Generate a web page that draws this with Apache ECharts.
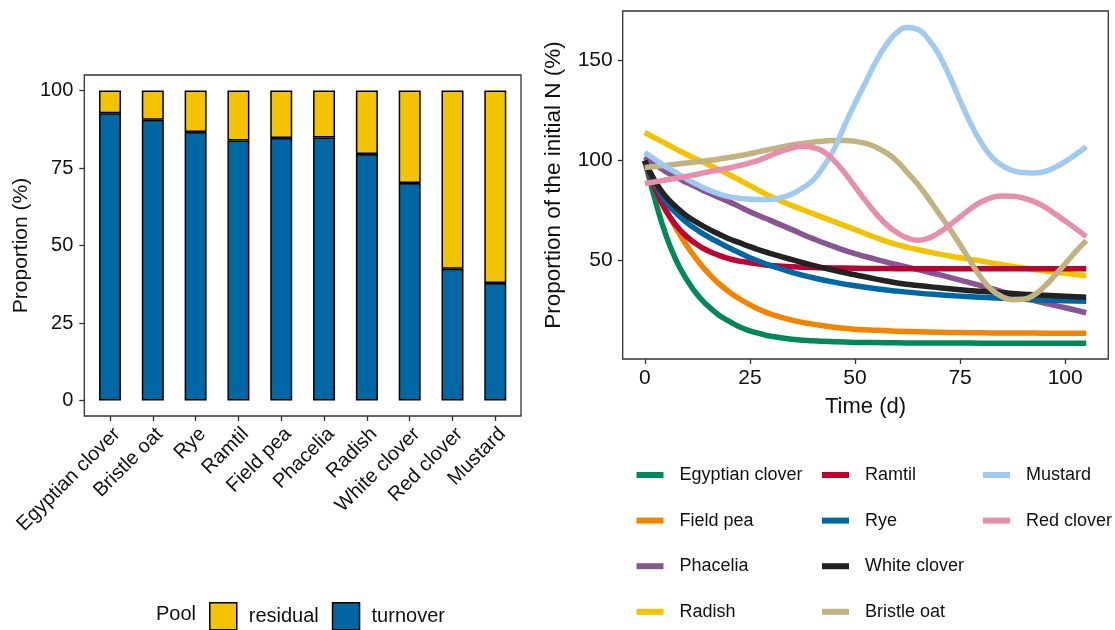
<!DOCTYPE html>
<html>
<head>
<meta charset="utf-8">
<script src="https://cdn.jsdelivr.net/npm/echarts@6/dist/echarts.min.js"></script>
<style>
  html, body { margin: 0; padding: 0; background: #ffffff; }
  #chart { width: 1115px; height: 630px; }
</style>
</head>
<body>
<div id="chart"></div>
<script>
// ---- Left panel: N pools per cover crop (%) ----
const crops = ['Egyptian clover', 'Bristle oat', 'Rye', 'Ramtil', 'Field pea',
               'Phacelia', 'Radish', 'White clover', 'Red clover', 'Mustard'];
const turnover = [92.7, 90.6, 86.6, 83.9, 84.7, 84.8, 79.5, 70.2, 42.5, 37.9];
const residual = [7.3, 9.4, 13.4, 16.1, 15.3, 15.2, 20.5, 29.8, 57.5, 62.1];
const proportionTicks = [0, 25, 50, 75, 100];

// ---- Right panel: remaining N over time (% of initial) ----
// monotone decays: sampled densely during the fast early drop
const decayDays = [0, 2.5, 5, 7.5, 10, 12.5, 15, 17.5, 20, 22.5, 25, 27.5, 30,
                   35, 40, 45, 50, 55, 60, 65, 70, 75, 80, 85, 90, 95, 100, 105];
const egyptianClover = [100, 80, 63, 50, 40.5, 33, 27.5, 23, 19.8, 17, 15, 13.5, 12.3,
                        10.8, 10, 9.5, 9.2, 9.1, 9, 8.9, 8.9, 8.9, 8.8, 8.8, 8.8, 8.8, 8.8, 8.8];
const fieldPea = [100, 87, 76, 66, 57.5, 50.3, 44, 38.8, 34.5, 31, 28, 25.4, 23.3,
                  20.3, 18.3, 16.8, 15.8, 15.2, 14.8, 14.5, 14.3, 14.1, 14, 13.9, 13.9, 13.8, 13.8, 13.8];
const phacelia = [102, 98, 94.5, 91.6, 89, 86.5, 84, 81.7, 79.5, 77, 74.5, 72.2, 70,
                  65.5, 61, 57, 53.5, 50.7, 48, 45.5, 43, 40.3, 37.5, 34.5, 31.5, 28.8, 26.5, 24];
const radish = [114, 111.2, 108.5, 105.7, 103, 100.5, 98, 95.5, 93, 90.3, 87.5, 84.7, 82,
                77.5, 73.5, 69.5, 65.5, 61.5, 58, 55.5, 53.3, 51.5, 49.8, 48, 46.3, 45, 43.7, 42.5];
const ramtil = [100, 86, 75, 67.5, 62, 58, 55, 52.8, 51, 49.8, 49, 48.2, 47.6,
                47, 46.6, 46.4, 46.2, 46.1, 46, 46, 46, 46, 46, 46, 46, 46, 46, 46];
const rye = [100, 88.5, 79.5, 73.8, 69, 65.3, 62, 59.2, 56.5, 54, 51.5, 49.4, 47.5,
             44.2, 41.5, 39.3, 37.5, 36, 34.8, 33.8, 33, 32.3, 31.7, 31.2, 30.7, 30.3, 30, 29.8];
const whiteClover = [100, 89.5, 82, 76.8, 72.3, 69, 66, 63.4, 61, 59, 57, 55.2, 53.5,
                     50.5, 47.7, 45.2, 43, 40.8, 38.9, 37.6, 36.5, 35.5, 34.7, 34, 33.3, 32.7, 32.2, 31.8];

// non-monotone curves: sampled every 2.5 days
const waveDays = [0, 2.5, 5, 7.5, 10, 12.5, 15, 17.5, 20, 22.5, 25, 27.5, 30, 32.5, 35, 37.5,
                  40, 42.5, 45, 47.5, 50, 52.5, 55, 57.5, 60, 62.5, 65, 67.5, 70, 72.5, 75, 77.5,
                  80, 82.5, 85, 87.5, 90, 92.5, 95, 97.5, 100, 102.5, 105];
const bristleOat = [96.5, 97, 97.6, 98.2, 98.8, 99.4, 100, 100.7, 101.5, 102.4, 103.4, 104.6, 105.7, 106.8, 107.8, 108.6,
                    109.2, 109.7, 110, 110, 109.6, 108.6, 106.7, 103.8, 99.7, 94, 88, 81, 73.5, 66, 58, 49.5,
                    41.5, 35.5, 32, 30.5, 30.7, 32.8, 37, 42.5, 48.5, 54.5, 60];
const mustard = [104, 100.5, 97, 94, 90.8, 88, 85.5, 83.5, 82, 81.2, 80.7, 80.5, 80.6, 81.5, 83.3, 86.3,
                 90.2, 97, 105.5, 117.5, 128.5, 139, 149.5, 158, 164, 166.5, 165.5, 160.5, 152.8, 142, 130, 118.5,
                 109, 101.8, 97.5, 95, 94, 93.8, 94.5, 96.5, 99.5, 103, 107];
const redClover = [88.5, 89.4, 90.3, 91.2, 92.2, 93.2, 94.3, 95.3, 96.3, 97.5, 98.9, 100.5, 102.6, 104.7, 106.3, 107.2,
                   106.5, 104.5, 100, 94, 87, 80, 73.5, 68, 64, 61.3, 60.2, 61.3, 64, 67.8, 71.8, 76,
                   79.3, 81.5, 82.3, 82.2, 81.3, 79.6, 77, 73.5, 69.8, 66, 62];

const timeTicks = [0, 25, 50, 75, 100];
const nTicks = [50, 100, 150];

const FONT = "'Liberation Sans', Arial, Helvetica, sans-serif";
const TXT = '#111111';

const lineSeriesDefs = [
  { name: 'Egyptian clover', days: decayDays, values: egyptianClover, color: '#008856' },
  { name: 'Field pea',       days: decayDays, values: fieldPea,       color: '#f38400' },
  { name: 'Phacelia',        days: decayDays, values: phacelia,       color: '#875692' },
  { name: 'Radish',          days: decayDays, values: radish,         color: '#f3c300' },
  { name: 'Ramtil',          days: decayDays, values: ramtil,         color: '#be0032' },
  { name: 'Rye',             days: decayDays, values: rye,            color: '#0067a5' },
  { name: 'White clover',    days: decayDays, values: whiteClover,    color: '#222222' },
  { name: 'Bristle oat',     days: waveDays,  values: bristleOat,     color: '#c2b280' },
  { name: 'Mustard',         days: waveDays,  values: mustard,        color: '#a1caf1' },
  { name: 'Red clover',      days: waveDays,  values: redClover,      color: '#e68fac' }
];

const barSeries = [
  { name: 'turnover', values: turnover, color: '#0067a5' },
  { name: 'residual', values: residual, color: '#f3c300' }
].map(s => ({
  name: s.name,
  type: 'bar',
  xAxisIndex: 0,
  yAxisIndex: 0,
  stack: 'pool',
  barWidth: 22,
  data: s.values,
  itemStyle: { color: s.color, borderColor: '#000000', borderWidth: 1.5 },
  emphasis: { disabled: true }
}));

const lineSeries = lineSeriesDefs.map(s => ({
  name: s.name,
  type: 'line',
  xAxisIndex: 1,
  yAxisIndex: 1,
  smooth: 0.5,
  showSymbol: false,
  data: s.days.map((d, i) => [d, s.values[i]]),
  lineStyle: { width: 5.5, color: s.color, cap: 'butt', join: 'round' },
  itemStyle: { color: s.color },
  emphasis: { disabled: true }
}));

const legendText = { fontFamily: FONT, fontSize: 18, color: TXT, lineHeight: 20, padding: [0, 0, 0, 11] };
function lineLegend(names, left) {
  return {
    data: names,
    orient: 'vertical',
    left: left,
    top: 465,
    padding: 0,
    itemGap: 25.6,
    itemWidth: 27,
    itemHeight: 6,
    icon: 'rect',
    selectedMode: false,
    textStyle: legendText
  };
}

const tickStyle = { show: true, length: 5, lineStyle: { color: '#333333', width: 1.3 } };
const noLine = { show: false, onZero: false };

// bar band width: the framed panel spans 10.2 category widths (0.6 padding each side)
const FRAME_LEFT = 84.3, FRAME_WIDTH = 436.7;
const BAND = FRAME_WIDTH / 10.2;

const option = {
  backgroundColor: '#ffffff',
  animation: false,
  title: {
    text: 'Pool',
    left: 156,
    top: 604,
    padding: 0,
    textStyle: { fontFamily: FONT, fontSize: 20, fontWeight: 'normal', color: TXT }
  },
  grid: [
    // 0: bars
    { left: FRAME_LEFT + 0.1 * BAND, top: 75, width: 10 * BAND, height: 341, show: false },
    // 1: time courses
    { left: 622.7, top: 11, width: 485.6, height: 348, show: true, borderColor: '#333333', borderWidth: 1.3, backgroundColor: 'transparent' },
    // 2: frame and y scale of the bar panel
    { left: FRAME_LEFT, top: 75, width: FRAME_WIDTH, height: 341, show: true, borderColor: '#333333', borderWidth: 1.3, backgroundColor: 'transparent' }
  ],
  xAxis: [
    {
      type: 'category', gridIndex: 0, data: crops, boundaryGap: true,
      axisLine: noLine,
      splitLine: { show: false },
      axisTick: Object.assign({ alignWithLabel: true, interval: 0 }, tickStyle),
      axisLabel: {
        interval: 0, rotate: 45, margin: 8,
        align: 'right', verticalAlign: 'top',
        fontFamily: FONT, fontSize: 20, color: TXT
      }
    },
    {
      type: 'value', gridIndex: 1, min: -5.25, max: 110.25,
      name: 'Time (d)', nameLocation: 'middle', nameGap: 37,
      nameTextStyle: { fontFamily: FONT, fontSize: 22, color: TXT },
      axisLine: noLine,
      splitLine: { show: false },
      axisTick: Object.assign({ customValues: timeTicks }, tickStyle),
      axisLabel: { customValues: timeTicks, margin: 9, fontFamily: FONT, fontSize: 21, color: TXT }
    },
    { type: 'value', gridIndex: 2, min: 0, max: 1, show: false }
  ],
  yAxis: [
    { type: 'value', gridIndex: 0, min: -5, max: 105, show: false, axisLine: noLine },
    {
      type: 'value', gridIndex: 1, min: 0.9, max: 174.7,
      name: 'Proportion of the initial N (%)', nameLocation: 'middle', nameGap: 57, nameRotate: 90,
      nameTextStyle: { fontFamily: FONT, fontSize: 22.5, color: TXT },
      axisLine: noLine,
      splitLine: { show: false },
      axisTick: Object.assign({ customValues: nTicks }, tickStyle),
      axisLabel: { customValues: nTicks, margin: 10, fontFamily: FONT, fontSize: 21, color: TXT }
    },
    {
      type: 'value', gridIndex: 2, min: -5, max: 105,
      name: 'Proportion (%)', nameLocation: 'middle', nameGap: 53, nameRotate: 90,
      nameTextStyle: { fontFamily: FONT, fontSize: 21, color: TXT },
      axisLine: noLine,
      splitLine: { show: false },
      axisTick: Object.assign({ customValues: proportionTicks }, tickStyle),
      axisLabel: { customValues: proportionTicks, margin: 11, fontFamily: FONT, fontSize: 20, color: TXT }
    }
  ],
  legend: [
    {
      data: ['residual', 'turnover'],
      orient: 'horizontal',
      left: 209,
      top: 602,
      padding: 0,
      itemGap: 13,
      itemWidth: 27,
      itemHeight: 27,
      icon: 'rect',
      selectedMode: false,
      itemStyle: { borderColor: '#000000', borderWidth: 1.5 },
      textStyle: { fontFamily: FONT, fontSize: 20, color: TXT, padding: [0, 0, 0, 7] }
    },
    lineLegend(['Egyptian clover', 'Field pea', 'Phacelia', 'Radish'], 636.5),
    lineLegend(['Ramtil', 'Rye', 'White clover', 'Bristle oat'], 822),
    lineLegend(['Mustard', 'Red clover'], 983)
  ],
  series: barSeries.concat(lineSeries)
};

const chart = echarts.init(document.getElementById('chart'), null, { renderer: 'canvas', width: 1115, height: 630 });
chart.setOption(option);
</script>
</body>
</html>
